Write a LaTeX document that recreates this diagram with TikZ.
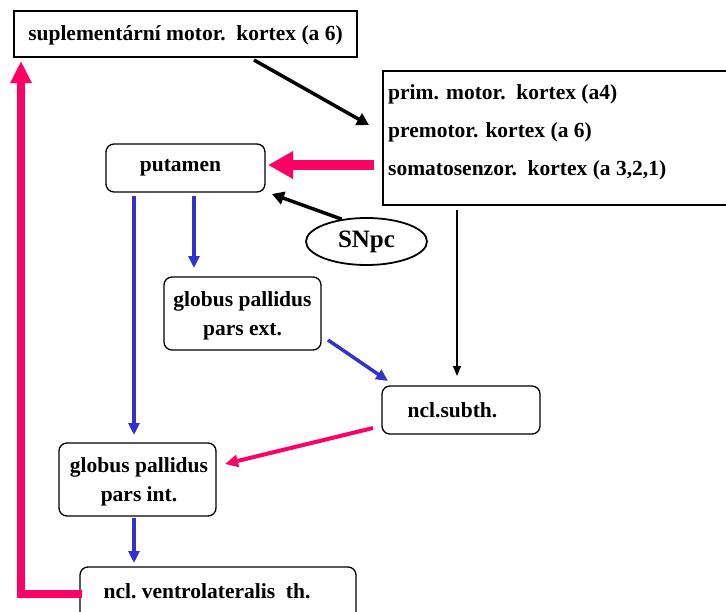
\documentclass[tikz,border=0pt]{standalone}
\usepackage{fontspec}
\setmainfont{Liberation Serif}
\usetikzlibrary{arrows.meta,shapes.geometric}
\definecolor{pinkc}{HTML}{FF0066}
\definecolor{bluec}{HTML}{3333CC}
\begin{document}
\begin{tikzpicture}[x=1pt,y=-1pt,
  txt/.style={font=\bfseries\fontsize{21.5}{29}\selectfont, inner sep=0, align=center},
  sqbox/.style={draw, line width=1.3pt, inner sep=0, outer sep=0},
  rbox/.style={draw, line width=1.3pt, rounded corners=8pt, inner sep=0, outer sep=0},
  blk/.style={draw=black, line width=3.5pt, -{Triangle[length=12pt,width=13pt]}},
  thin/.style={draw=black, line width=1.2pt, -{Triangle[length=10pt,width=8pt]}},
  blu/.style={draw=bluec, line width=3.5pt, -{Triangle[length=12pt,width=11pt]}},
  pnk/.style={draw=pinkc, line width=4pt, -{Triangle[length=13pt,width=12pt]}},
  pnkbig/.style={draw=pinkc, line width=10pt, -{Triangle[length=25pt,width=26pt]}},
  pnkL/.style={draw=pinkc, line width=8pt, -{Triangle[length=22pt,width=20pt]}}
]
\useasboundingbox (0,0) rectangle (726,611);
\fill[white] (0,0) rectangle (726,611);

\node[sqbox, minimum width=343pt, minimum height=46pt] (supl) at (185.5,34) {};
\node[txt] (suplt) at (185.5,35.5) {suplementární motor.\ \ kortex (a 6)};
\node[sqbox, minimum width=350pt, minimum height=134pt, anchor=north west] (ctx) at (383,71) {};
\node[txt, anchor=west] (ctx1) at (388,94.5) {prim. motor.\ \ kortex (a4)};
\node[txt, anchor=west] (ctx2) at (388,132) {premotor. kortex (a 6)};
\node[txt, anchor=west] (ctx3) at (388,170) {somatosenzor.\ \ kortex (a 3,2,1)};

\node[rbox, minimum width=159pt, minimum height=48pt] (put) at (185.5,168) {};
\node[txt] (putt) at (180.5,168) {putamen};
\node[draw, ellipse, line width=1.8pt, minimum width=121pt, minimum height=47pt, inner sep=0,
  font=\bfseries\fontsize{25}{30}\selectfont] (snpc) at (366.5,241.5) {SNpc};
\node[rbox, minimum width=157pt, minimum height=73pt] (gpext) at (242.5,313.5) {};
\node[txt] (gpextt) at (242.5,316) {globus pallidus\\pars ext.};
\node[rbox, minimum width=158pt, minimum height=48pt] (subth) at (461,410) {};
\node[txt] (subtht) at (452.5,410) {ncl.subth.};
\node[rbox, minimum width=157pt, minimum height=73pt] (gpint) at (137.5,479.5) {};
\node[txt] (gpintt) at (139,482) {globus pallidus\\pars int.};
\node[rbox, minimum width=276pt, minimum height=64pt, anchor=north west] (vl) at (80,567) {};
\node[txt] (vlt) at (207,591) {ncl.\ ventrolateralis\ \ th.};

% connectors
\draw[blk] ([xshift=-103pt,yshift=-3pt]supl.south east) -- ([xshift=-14pt,yshift=-54pt]ctx.north west);
\draw[pnkbig] ([xshift=-9pt,yshift=-94pt]ctx.north west) -- ([xshift=3pt,yshift=3pt]put.east);
\draw[blk] (snpc.138) -- ([xshift=7pt,yshift=-2pt]put.south east);
\draw[thin] ([xshift=74pt,yshift=-5pt]ctx.south west) -- ([xshift=-4pt,yshift=10pt]subth.north);
\draw[blu] ([xshift=28pt,yshift=-4pt]put.south west) -- ([xshift=-3.5pt,yshift=8pt]gpint.north);
\draw[blu] ([xshift=88pt,yshift=-4pt]put.south west) -- ([xshift=-48.5pt,yshift=9pt]gpext.north);
\draw[blu] ([xshift=7pt,yshift=10pt]gpext.south east) -- ([xshift=6pt,yshift=5pt]subth.north west);
\draw[pnk] ([xshift=-9pt,yshift=6pt]subth.south west) -- ([xshift=9pt,yshift=15.5pt]gpint.east);
\draw[blu] ([xshift=-3.5pt,yshift=-2pt]gpint.south) -- ([xshift=54pt,yshift=4pt]vl.north west);
\draw[pnkL] ([xshift=2pt,yshift=-27pt]vl.north west) -| ([xshift=7pt,yshift=-4pt]supl.south west);
\end{tikzpicture}
\end{document}
